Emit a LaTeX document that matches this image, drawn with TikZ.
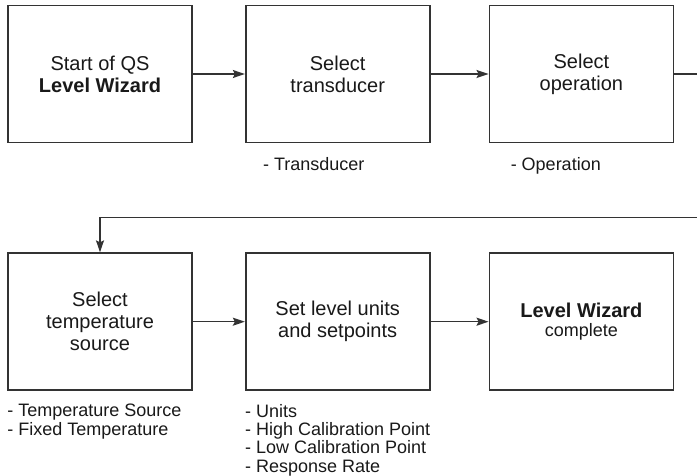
\documentclass[tikz,border=0pt]{standalone}
\usepackage{fontspec}
\setmainfont{Liberation Sans}
\usepackage{xcolor}
\usepackage{tikz}
\usetikzlibrary{arrows.meta,positioning,calc}

\begin{document}
\begin{tikzpicture}[auto, >={Stealth[length=12pt,width=8pt,inset=2pt]}]
        \tikzset{
            block/.style={draw=black!80, fill=white, rectangle, minimum width=184pt, minimum height=137pt, align=center, line width=1.7pt, inner sep=0pt, text=black!90, font=\fontsize{20}{22}\selectfont},
            note/.style={align=left, inner sep=0pt, text=black!90, font=\fontsize{18}{18.3}\selectfont},
            link/.style={->, line width=1.5pt, draw=black!80}
        }
        \useasboundingbox (0,0) rectangle (697pt,-476pt);
        \clip (0,0) rectangle (697pt,-476pt);

        % Nodes
        \node [block] (start) at (100pt,-74pt) {Start of QS\\ \textbf{Level Wizard}};
        \node [block, right=52pt of start] (trans) {Select\\ transducer};
        \node [block, right=58pt of trans] (oper) {Select\\ operation};

        \node [block, below=109pt of start] (tsrc) {Select\\ temperature\\ source};
        \node [block, right=52pt of tsrc] (units) {Set level units\\ and setpoints};
        \node [block, right=58pt of units, font=\fontsize{20}{19}\selectfont] (done) {\textbf{Level Wizard}\\ {\fontsize{18}{19}\selectfont complete}};

        % Parameters
        \node [note, below right=14pt and 18pt of trans.south west] (transp) {- Transducer};
        \node [note, below right=14pt and 22pt of oper.south west] (operp) {- Operation};
        \node [note, below right=13pt and 0pt of tsrc.south west] (tsrcp) {- Temperature Source\\ - Fixed Temperature};
        \node [note, below right=13pt and 0pt of units.south west] (unitsp) {- Units\\ - High Calibration Point\\ - Low Calibration Point\\ - Response Rate};

        % Connections
        \draw [link] (start) -- (trans);
        \draw [link] (trans) -- (oper);
        \coordinate (turn) at ($(oper.east) + (40pt,0)$);
        \coordinate (back) at ($(tsrc.north) + (0,35pt)$);
        \draw [link] (oper.east) -- (turn) |- (back) -- (tsrc.north);
        \draw [link] (tsrc) -- (units);
        \draw [link] (units) -- (done);
    \end{tikzpicture}
\end{document}
